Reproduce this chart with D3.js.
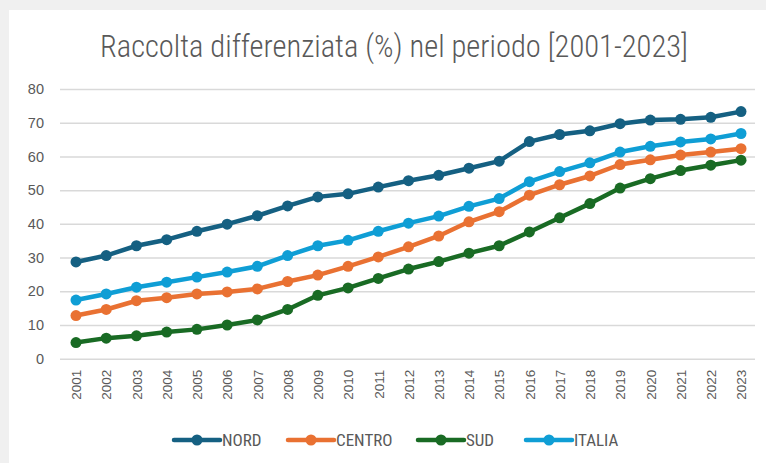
<!DOCTYPE html>
<html><head><meta charset="utf-8">
<script src="https://cdn.jsdelivr.net/npm/d3@7"></script>
<style>
html,body{margin:0;padding:0;background:#f0f0f0;}
svg{display:block;}
</style></head>
<body>
<svg id="chart" width="766" height="463"></svg>
<script>
const years = ["2001","2002","2003","2004","2005","2006","2007","2008","2009","2010","2011","2012","2013","2014","2015","2016","2017","2018","2019","2020","2021","2022","2023"];
const nord   = [28.7,30.6,33.5,35.3,37.8,39.9,42.4,45.3,48.0,48.9,50.9,52.8,54.4,56.5,58.6,64.4,66.5,67.6,69.7,70.8,71.0,71.6,73.3];
const centro = [12.8,14.6,17.2,18.1,19.2,19.8,20.7,22.9,24.8,27.4,30.2,33.2,36.4,40.6,43.6,48.5,51.6,54.2,57.6,59.0,60.4,61.3,62.3];
const sud    = [4.8,6.1,6.8,7.9,8.7,10.0,11.5,14.6,18.8,21.0,23.8,26.6,28.8,31.3,33.5,37.6,41.8,46.0,50.6,53.4,55.8,57.4,58.9];
const italia = [17.4,19.2,21.2,22.7,24.2,25.7,27.4,30.6,33.5,35.1,37.8,40.2,42.3,45.2,47.5,52.5,55.5,58.1,61.3,63.0,64.3,65.2,66.8];
const seriesNames = ["NORD","CENTRO","SUD","ITALIA"];
const seriesColors = ["#156082","#E97132","#196B24","#0F9ED5"];
const yTicks = [0,10,20,30,40,50,60,70,80];
const title = "Raccolta differenziata (%) nel periodo [2001-2023]";

const series = [nord, centro, sud, italia].map((v,i)=>({name:seriesNames[i], color:seriesColors[i], values:v}));

const svg = d3.select("#chart");
svg.append("rect").attr("x",9).attr("y",10).attr("width",757).attr("height",453).attr("fill","#ffffff");

const narrow = "'Liberation Sans Narrow','Arial Narrow','Roboto Condensed',sans-serif";
const regular = "'Liberation Sans',Arial,sans-serif";

svg.append("text").attr("x",394).attr("y",57).attr("text-anchor","middle")
  .attr("font-family",narrow).attr("font-size",30.5).attr("font-weight",300).attr("fill","#595959").text(title);

const plot = {left:60, right:755, top:89, bottom:358.7};
const x = d3.scalePoint().domain(years).range([76,741]);
const y = d3.scaleLinear().domain([0,80]).range([plot.bottom, plot.top]);

// grid
const gy = svg.append("g").attr("transform",`translate(${plot.left},0)`)
  .call(d3.axisLeft(y).tickValues(yTicks).tickSize(-(plot.right-plot.left)).tickPadding(16));
gy.select(".domain").remove();
gy.selectAll(".tick line").attr("stroke","#d9d9d9").attr("stroke-width",1.5);
gy.selectAll(".tick text").attr("font-family",regular).attr("font-size",14.5).attr("fill","#595959");

const gx = svg.append("g").attr("transform",`translate(0,${plot.bottom})`)
  .call(d3.axisBottom(x).tickSize(0).tickPadding(0));
gx.select(".domain").remove();
gx.selectAll(".tick text").attr("font-family",regular).attr("font-size",13.5).attr("fill","#595959")
  .attr("transform","rotate(-90)").attr("text-anchor","end").attr("dy","0.35em").attr("x",-11).attr("y",0);

const line = d3.line().x((d,i)=>x(years[i])).y(d=>y(d));
const gs = svg.append("g");
series.forEach(s=>{
  gs.append("path").attr("d",line(s.values)).attr("fill","none").attr("stroke",s.color)
    .attr("stroke-width",4.5).attr("stroke-linejoin","round").attr("stroke-linecap","round");
  gs.selectAll(null).data(s.values).enter().append("circle")
    .attr("cx",(d,i)=>x(years[i])).attr("cy",d=>y(d)).attr("r",5.5).attr("fill",s.color);
});

// legend
const legX = [174,288,418,526];
const lg = svg.append("g");
series.forEach((s,i)=>{
  const g = lg.append("g").attr("transform",`translate(${legX[i]},440)`);
  g.append("line").attr("x1",0).attr("x2",46).attr("y1",0).attr("y2",0).attr("stroke",s.color).attr("stroke-width",4.5).attr("stroke-linecap","round");
  g.append("circle").attr("cx",23).attr("cy",0).attr("r",5.5).attr("fill",s.color);
  g.append("text").attr("x",48).attr("y",0).attr("dy","0.35em").attr("font-family",narrow).attr("font-size",17).attr("fill","#595959").text(s.name);
});
</script>
</body></html>
